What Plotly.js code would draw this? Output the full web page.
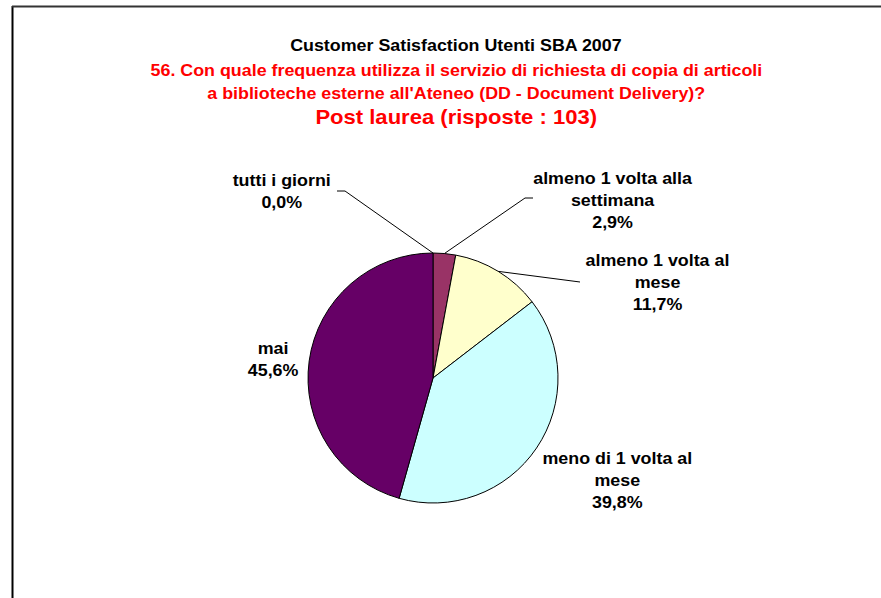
<!DOCTYPE html>
<html>
<head>
<meta charset="utf-8">
<script src="https://cdn.plot.ly/plotly-3.0.1.min.js"></script>
<style>html,body{margin:0;padding:0;background:#fff;}#chart{width:881px;height:598px;}</style>
</head>
<body>
<div id="chart"></div>
<script>
// ---- data ----
var categories = ["tutti i giorni", "almeno 1 volta alla settimana", "almeno 1 volta al mese", "meno di 1 volta al mese", "mai"];
var counts = [0, 3, 12, 41, 47];
var sliceColors = ["#FF99CC", "#993366", "#FFFFCC", "#CCFFFF", "#660066"];
var titleLines = ["Customer Satisfaction Utenti SBA 2007",
  "56. Con quale frequenza utilizza il servizio di richiesta di copia di articoli",
  "a biblioteche esterne all'Ateneo (DD - Document Delivery)?",
  "Post laurea (risposte : 103)"];

// ---- layout settings (pixels) ----
var W = 881, H = 598;
var cx = 433, cy = 378, R = 125;
var labelStyle = [
  {tx: 281, ty: 191, elbow: [345, 191], end: [337, 191]},
  {tx: 613, ty: 200, elbow: [525, 198], end: [533, 198]},
  {tx: 657, ty: 282, elbow: null, end: [580, 282]},
  {tx: 617, ty: 480, elbow: null, end: null},
  {tx: 273, ty: 359, elbow: null, end: null}
];

function px(x){ return x / W; }
function py(y){ return 1 - y / H; }
function wrap(s, n){
  var words = s.split(' '), lines = [], cur = '';
  words.forEach(function(w){
    if (cur && (cur + ' ' + w).length > n) { lines.push(cur); cur = w; }
    else cur = cur ? cur + ' ' + w : w;
  });
  if (cur) lines.push(cur);
  return lines.join('<br>');
}

var total = counts.reduce(function(a,b){return a+b;}, 0);
var annotations = [], shapes = [];
var FONT = "Liberation Sans, Arial, sans-serif";
var labFont = {family: FONT, size: 17, color: "#000"};

var cum = 0;
counts.forEach(function(v, i){
  var mid = (cum + v / 2) / total * 2 * Math.PI;
  cum += v;
  var ex = cx + R * Math.sin(mid), ey = cy - R * Math.cos(mid);
  var pct = (v / total * 100).toFixed(1).replace('.', ',') + '%';
  var st = labelStyle[i];
  annotations.push({
    x: px(st.tx), y: py(st.ty), xref: 'paper', yref: 'paper',
    xanchor: 'center', yanchor: 'middle', showarrow: false, align: 'center',
    text: '<b>' + wrap(categories[i], 19) + '<br>' + pct + '</b>', font: labFont
  });
  if (st.end) {
    var path = 'M' + px(ex) + ',' + py(ey);
    if (st.elbow) path += ' L' + px(st.elbow[0]) + ',' + py(st.elbow[1]);
    path += ' L' + px(st.end[0]) + ',' + py(st.end[1]);
    shapes.push({type: 'path', xref: 'paper', yref: 'paper', path: path,
      line: {color: '#000', width: 1}});
  }
});

var titleY = [46, 70, 93, 117];
var titleSize = [17, 17, 17, 21];
var titleColor = ["#000", "#FF0000", "#FF0000", "#FF0000"];
titleLines.forEach(function(t, i){
  annotations.push({
    x: px(456), y: py(titleY[i]), xref: 'paper', yref: 'paper',
    xanchor: 'center', yanchor: 'middle', showarrow: false,
    text: '<b>' + t + '</b>',
    font: {family: FONT, size: titleSize[i], color: titleColor[i]}
  });
});

// frame
shapes.push({type: 'line', xref: 'paper', yref: 'paper', x0: px(12.5), x1: px(12.5), y0: py(6), y1: py(620), line: {color: '#000', width: 2}});
shapes.push({type: 'line', xref: 'paper', yref: 'paper', x0: px(12), x1: px(900), y0: py(6.5), y1: py(6.5), line: {color: '#333', width: 2}});

var trace = {
  type: 'pie',
  labels: categories,
  values: counts,
  sort: false,
  direction: 'clockwise',
  rotation: 0,
  textinfo: 'none',
  hoverinfo: 'label+percent',
  marker: {colors: sliceColors, line: {color: '#000', width: 1}},
  domain: {x: [px(cx - R), px(cx + R)], y: [py(cy + R), py(cy - R)]},
  showlegend: false
};

var layout = {
  width: W, height: H,
  margin: {l: 0, r: 0, t: 0, b: 0},
  paper_bgcolor: '#fff',
  showlegend: false,
  annotations: annotations,
  shapes: shapes
};

Plotly.newPlot('chart', [trace], layout, {displayModeBar: false, staticPlot: true}).then(function(){
  // slightly wider glyphs, like the original rendering
  document.querySelectorAll('#chart text.annotation-text').forEach(function(t){
    var b = t.getBBox();
    var c = b.x + b.width / 2;
    t.setAttribute('transform', 'translate(' + c + ',0) scale(1.05,1) translate(' + (-c) + ',0)');
  });
});
</script>
</body>
</html>
